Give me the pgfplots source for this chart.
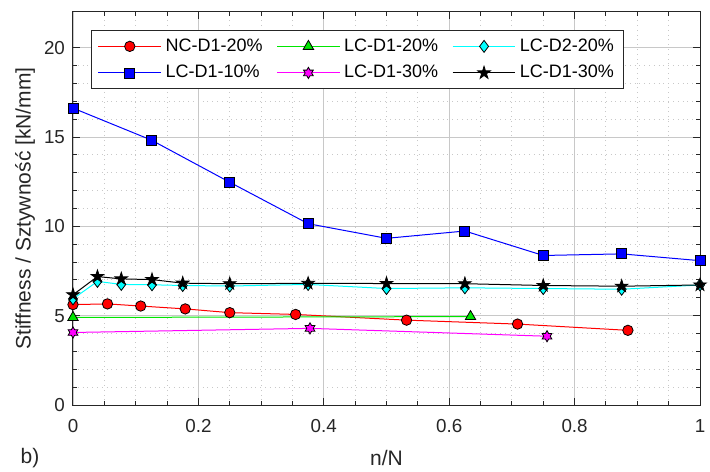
\documentclass[border=0pt]{standalone}
\usepackage{pgfplots}
\pgfplotsset{compat=1.18}
\usepackage{fontspec}
\setmainfont{Liberation Sans}

\definecolor{axgray}{RGB}{38,38,38}
\definecolor{gridgray}{RGB}{200,200,200}
\definecolor{mred}{RGB}{255,0,0}
\definecolor{mgreen}{RGB}{0,230,0}
\definecolor{mcyan}{RGB}{0,255,255}
\definecolor{mblue}{RGB}{0,0,255}
\definecolor{mmag}{RGB}{255,0,255}

% Matlab-like pentagram and hexagram markers
\pgfdeclareplotmark{pentagram}{%
  \pgfpathmoveto{\pgfpointpolar{90}{\pgfplotmarksize}}%
  \pgfpathlineto{\pgfpointpolar{126}{0.382\pgfplotmarksize}}%
  \pgfpathlineto{\pgfpointpolar{162}{\pgfplotmarksize}}%
  \pgfpathlineto{\pgfpointpolar{198}{0.382\pgfplotmarksize}}%
  \pgfpathlineto{\pgfpointpolar{234}{\pgfplotmarksize}}%
  \pgfpathlineto{\pgfpointpolar{270}{0.382\pgfplotmarksize}}%
  \pgfpathlineto{\pgfpointpolar{306}{\pgfplotmarksize}}%
  \pgfpathlineto{\pgfpointpolar{342}{0.382\pgfplotmarksize}}%
  \pgfpathlineto{\pgfpointpolar{18}{\pgfplotmarksize}}%
  \pgfpathlineto{\pgfpointpolar{54}{0.382\pgfplotmarksize}}%
  \pgfpathclose\pgfusepathqfillstroke}
\pgfdeclareplotmark{hexagram}{%
  \pgfpathmoveto{\pgfpointpolar{90}{\pgfplotmarksize}}%
  \pgfpathlineto{\pgfpointpolar{120}{0.577\pgfplotmarksize}}%
  \pgfpathlineto{\pgfpointpolar{150}{\pgfplotmarksize}}%
  \pgfpathlineto{\pgfpointpolar{180}{0.577\pgfplotmarksize}}%
  \pgfpathlineto{\pgfpointpolar{210}{\pgfplotmarksize}}%
  \pgfpathlineto{\pgfpointpolar{240}{0.577\pgfplotmarksize}}%
  \pgfpathlineto{\pgfpointpolar{270}{\pgfplotmarksize}}%
  \pgfpathlineto{\pgfpointpolar{300}{0.577\pgfplotmarksize}}%
  \pgfpathlineto{\pgfpointpolar{330}{\pgfplotmarksize}}%
  \pgfpathlineto{\pgfpointpolar{0}{0.577\pgfplotmarksize}}%
  \pgfpathlineto{\pgfpointpolar{30}{\pgfplotmarksize}}%
  \pgfpathlineto{\pgfpointpolar{60}{0.577\pgfplotmarksize}}%
  \pgfpathclose\pgfusepathqfillstroke}

\begin{document}
\begin{tikzpicture}
\path[use as bounding box] (-36.5pt,-33pt) rectangle (318.5pt,202.5pt);
\begin{axis}[
  at={(0,0)}, anchor=south west,
  scale only axis, width=313.5pt, height=196.5pt,
  xmin=0, xmax=1, ymin=0, ymax=22,
  xtick={0,0.2,0.4,0.6,0.8,1}, xticklabels={0,0.2,0.4,0.6,0.8,1},
  ytick={0,5,10,15,20},
  minor x tick num=3, minor y tick num=4,
  grid=both,
  major grid style={gridgray, line width=0.4pt},
  minor grid style={gridgray, dotted, line width=0.5pt},
  axis line style={axgray, line width=0.5pt},
  every tick/.style={axgray, line width=0.5pt},
  tick align=inside,
  major tick length=3.5pt, minor tick length=2pt,
  tick label style={font=\fontsize{9.4}{11}\selectfont, color=axgray},
  xticklabel style={yshift=-3.5pt},
  yticklabel style={xshift=-0.5pt},
  /pgf/number format/assume math mode=true,
  xlabel={n/N},
  xlabel style={at={(axis description cs:0.5,-0.135)}, anchor=center,
    font=\fontsize{10.5}{12}\selectfont, color=axgray},
  ylabel={Stiffness / Sztywność [kN/mm]},
  ylabel style={at={(axis description cs:-0.0766,0.5)}, anchor=center,
    font=\fontsize{10.5}{12}\selectfont, color=axgray},
  legend columns=3,
  legend cell align=left,
  legend style={at={(axis description cs:0.0295,0.954)}, anchor=north west,
    draw=axgray, fill=white, line width=0.5pt,
    font=\fontsize{9}{10}\selectfont,
    /tikz/every even column/.append style={column sep=5pt},
    row sep=1.5pt},
  legend image code/.code={%
    \draw[mark repeat=2, mark phase=2, #1, line width=0.5pt]
      plot coordinates {(0cm,0cm) (0.55cm,0cm) (1.1cm,0cm)};},
  every axis plot/.append style={line width=0.5pt},
  clip=false,
]
\addplot[mred, mark=*, mark size=2.6pt, mark options={fill=mred, draw=black, line width=0.4pt}]
  coordinates {(0,5.62)(0.055,5.66)(0.108,5.54)(0.179,5.38)(0.25,5.17)(0.355,5.07)(0.532,4.75)(0.709,4.53)(0.885,4.18)};
\addlegendentry{NC-D1-20\%}
\addplot[mgreen, mark=triangle*, mark size=3pt, mark options={fill=mgreen, draw=black, line width=0.4pt}]
  coordinates {(0,4.9)(0.634,4.95)};
\addlegendentry{LC-D1-20\%}
\addplot[mcyan, mark=diamond*, mark size=3pt, mark options={fill=mcyan, draw=black, line width=0.4pt}]
  coordinates {(0,5.94)(0.039,6.92)(0.077,6.75)(0.126,6.73)(0.175,6.69)(0.25,6.66)(0.375,6.75)(0.5,6.52)(0.625,6.56)(0.75,6.52)(0.875,6.48)(1.0,6.72)};
\addlegendentry{LC-D2-20\%}
\addplot[mblue, mark=square*, mark size=2.5pt, mark options={fill=mblue, draw=black, line width=0.4pt}]
  coordinates {(0,16.62)(0.125,14.83)(0.25,12.47)(0.375,10.15)(0.5,9.33)(0.625,9.74)(0.75,8.37)(0.875,8.46)(1.0,8.08)};
\addlegendentry{LC-D1-10\%}
\addplot[mmag, mark=hexagram, mark size=2.8pt, mark options={fill=mmag, draw=black, line width=0.4pt}]
  coordinates {(0,4.06)(0.378,4.29)(0.756,3.85)};
\addlegendentry{LC-D1-30\%}
\addplot[black, mark=pentagram, mark size=3.3pt, mark options={fill=black, draw=black, line width=0.4pt}]
  coordinates {(0,6.17)(0.039,7.19)(0.077,7.06)(0.126,7.02)(0.175,6.82)(0.25,6.79)(0.375,6.81)(0.5,6.8)(0.625,6.79)(0.75,6.69)(0.875,6.65)(1.0,6.72)};
\addlegendentry{LC-D1-30\%}
\node[font=\fontsize{10.5}{12}\selectfont, color=axgray] at (axis description cs:-0.0686,-0.135) {b)};
\end{axis}
\end{tikzpicture}
\end{document}
